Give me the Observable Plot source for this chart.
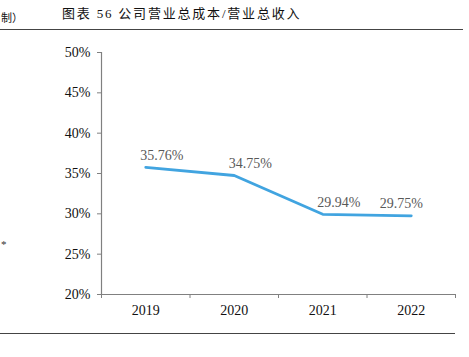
<!DOCTYPE html>
<html>
<head>
<meta charset="utf-8">
<script src="https://cdn.jsdelivr.net/npm/d3@7"></script>
<script src="https://cdn.jsdelivr.net/npm/@observablehq/plot@0.6"></script>
<style>
  html, body { margin: 0; padding: 0; background: #fff; }
  #wrap { position: relative; width: 469px; height: 357px; overflow: hidden; font-family: "Liberation Serif", "Noto Sans CJK SC", serif; }
  #chart { position: absolute; left: 0; top: 0; }
  .abs { position: absolute; white-space: nowrap; }
  .title { left: 62px; top: 5px; font-size: 13px; letter-spacing: 1.8px; color: #111; line-height: 18px; }
  .frag { left: 1px; top: 9px; font-size: 11px; color: #111; line-height: 18px; }
  .star { left: 1px; top: 238px; font-size: 11px; color: #333; }
  .hr { position: absolute; height: 0; }
</style>
</head>
<body>
<div id="wrap">
  <div id="chart"></div>
  <div class="abs frag">制）</div>
  <div class="abs title">图表 56 公司营业总成本/营业总收入</div>
  <div class="abs star">*</div>
  <div class="hr" style="left:0;top:29px;width:463px;border-top:1.5px solid #444;"></div>
  <div class="hr" style="left:0;top:333px;width:455px;border-top:1.2px solid #444;"></div>
</div>
<script>
const years = [2019, 2020, 2021, 2022];
const ratios = [35.76, 34.75, 29.94, 29.75];
const ratioLabels = ["35.76%", "34.75%", "29.94%", "29.75%"];
const yTicks = [20, 25, 30, 35, 40, 45, 50];

const data = years.map((year, i) => ({ year, value: ratios[i], label: ratioLabels[i] }));
const bounds = [...years.map(y => y - 0.5), years[years.length - 1] + 0.5];

const chart = Plot.plot({
  width: 469,
  height: 357,
  marginLeft: 101,
  marginRight: 14,
  marginTop: 52,
  marginBottom: 63,
  style: { fontFamily: "'Liberation Serif', 'Times New Roman', serif", fontSize: "14px", background: "transparent" },
  x: { type: "linear", domain: [bounds[0], bounds[bounds.length - 1]] },
  y: { domain: [20, 50] },
  marks: [
    Plot.ruleX([bounds[0]], { stroke: "#808080", strokeWidth: 1.2 }),
    Plot.ruleY([20], { stroke: "#808080", strokeWidth: 1.2 }),
    Plot.axisY({ ticks: yTicks, tickSize: 4, tickPadding: 7, tickFormat: d => d + "%", stroke: "#808080", fill: "#111", label: null }),
    Plot.axisX({ ticks: bounds, tickSize: 4, tickFormat: () => "", stroke: "#808080", label: null }),
    Plot.axisX({ ticks: years, tickSize: 0, tickPadding: 11, tickFormat: d => String(d), fill: "#111", label: null }),
    Plot.line(data, { x: "year", y: "value", stroke: "#41A4E0", strokeWidth: 2.8 }),
    Plot.text(data, { filter: d => d.year !== 2022, x: "year", y: "value", text: "label", dx: 16, dy: -12, fill: "#595959", fontSize: 14 }),
    Plot.text(data, { filter: d => d.year === 2022, x: "year", y: "value", text: "label", dx: -10, dy: -12, fill: "#595959", fontSize: 14 })
  ]
});
document.getElementById("chart").appendChild(chart);
</script>
</body>
</html>
